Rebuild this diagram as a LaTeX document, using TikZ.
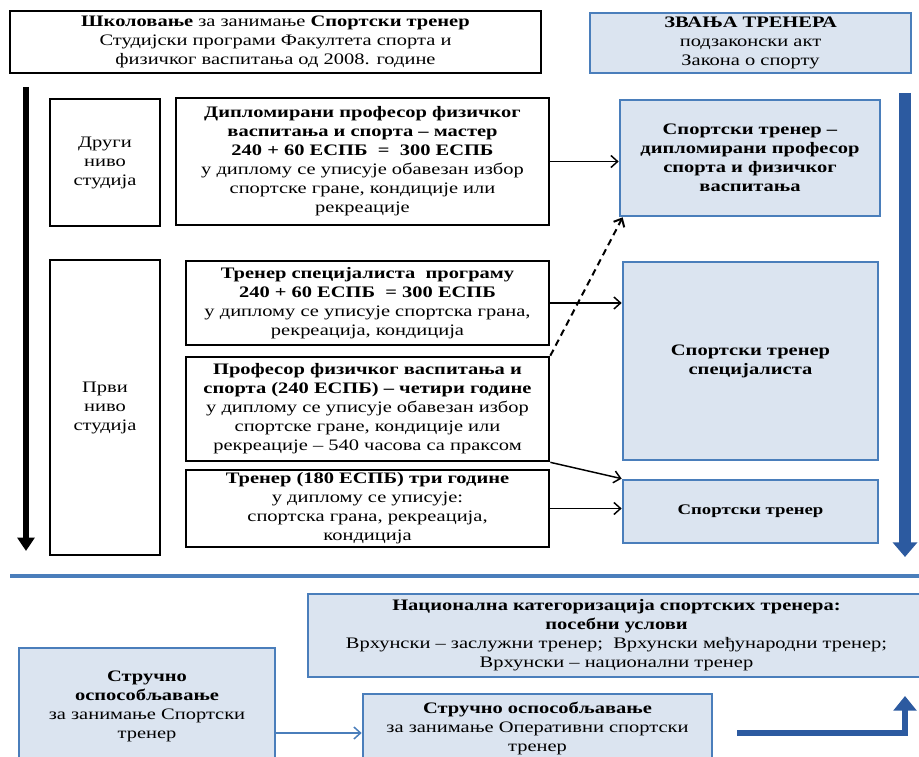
\documentclass[tikz,border=0pt]{standalone}
\usepackage{fontspec}
\setmainfont{Liberation Serif}[FakeStretch=1.28]
\usetikzlibrary{arrows.meta}

\definecolor{boxfill}{HTML}{DBE4F0}
\definecolor{boxline}{HTML}{4A7EBB}
\definecolor{bigblue}{HTML}{2C5AA0}

\tikzset{
  blackbox/.style={rectangle, draw=black, line width=2pt, align=center, inner sep=2pt,
    font=\fontsize{12}{14.25}\selectfont},
  bluebox/.style={rectangle, draw=boxline, fill=boxfill, line width=2pt, align=center, inner sep=2pt,
    font=\fontsize{12}{14.25}\selectfont},
  link/.style={-{Straight Barb[length=5pt,width=9pt]}, line width=1.1pt},
  dashlink/.style={link, dashed, dash pattern=on 5pt off 3.5pt, line width=1.5pt},
}

\begin{document}
\begin{tikzpicture}[x=0.75pt, y=-0.75pt]
  \useasboundingbox (0,0) rectangle (919,756);
  \clip (0,0) rectangle (919,756);
  % Nodes
  \node (school) [blackbox, minimum width=398.25pt, minimum height=46.5pt] at (275.5,42)
    {\textbf{Школовање} за занимање \textbf{Спортски тренер}\\Студијски програми Факултета спорта и\\физичког васпитања од 2008. године};
  \node (titles) [bluebox, minimum width=240.75pt, minimum height=45pt] at (750.5,43)
    {\textbf{ЗВАЊА ТРЕНЕРА}\\подзаконски акт\\Закона о спорту};
  \node (second) [blackbox, minimum width=82.5pt, minimum height=95.25pt] at (105,162.5)
    {Други\\ниво\\студија};
  \node (master) [blackbox, minimum width=279.75pt, minimum height=95.25pt] at (362.5,161.5)
    {\textbf{Дипломирани професор физичког}\\\textbf{васпитања и спорта -- мастер}\\\textbf{240 + 60 ЕСПБ \ = \ 300 ЕСПБ}\\у диплому се уписује обавезан избор\\спортске гране, кондиције или\\рекреације};
  \node (first) [blackbox, minimum width=82.5pt, minimum height=221.25pt] at (105,407.5)
    {Први\\ниво\\студија};
  \node (spec) [blackbox, minimum width=272.25pt, minimum height=63pt] at (367.5,303)
    {\textbf{Тренер специјалиста \ програму}\\\textbf{240 + 60 ЕСПБ \ = 300 ЕСПБ}\\у диплому се уписује спортска грана,\\рекреација, кондиција};
  \node (prof) [blackbox, minimum width=272.25pt, minimum height=78pt] at (367.5,409)
    {\textbf{Професор физичког васпитања и}\\\textbf{спорта (240 ЕСПБ) -- четири године}\\у диплому се уписује обавезан избор\\спортске гране, кондиције или\\рекреације -- 540 часова са праксом};
  \node (basic) [blackbox, minimum width=272.25pt, minimum height=57.75pt] at (367.5,508.5)
    {\textbf{Тренер (180 ЕСПБ) три године}\\у диплому се уписује:\\спортска грана, рекреација,\\кондиција};
  \node (coach-master) [bluebox, minimum width=195pt, minimum height=87pt] at (750,158)
    {\textbf{Спортски тренер --}\\\textbf{дипломирани професор}\\\textbf{спорта и физичког}\\\textbf{васпитања}};
  \node (coach-spec) [bluebox, minimum width=191.25pt, minimum height=148.5pt] at (750.5,361)
    {\textbf{Спортски тренер}\\\textbf{специјалиста}};
  \node (coach) [bluebox, minimum width=191.25pt, minimum height=47.25pt] at (750.5,511.5)
    {\textbf{\fontsize{11}{13}\selectfont Спортски тренер}};
  \node (national) [bluebox, minimum width=462.75pt, minimum height=62.25pt] at (616.5,635.5)
    {\textbf{Национална категоризација спортских тренера:}\\\textbf{посебни услови}\\Врхунски -- заслужни тренер; \ Врхунски међународни тренер;\\Врхунски -- национални тренер};
  \node (course) [bluebox, minimum width=192pt, minimum height=87.75pt] at (147,706.5)
    {\textbf{Стручно}\\\textbf{оспособљавање}\\за занимање Спортски\\тренер};
  \node (course-op) [bluebox, minimum width=261.75pt, minimum height=51pt] at (537.5,728)
    {\textbf{Стручно оспособљавање}\\за занимање Оперативни спортски\\тренер};
  \coordinate (edu-top) at (26,87);
  \coordinate (edu-bot) at (26,551);
  \coordinate (law-top) at (905,93);
  \coordinate (law-bot) at (905,557);
  \coordinate (rise-start) at (737,733);
  \coordinate (rise-end) at (905,696);
  \coordinate (rule-l) at (10,576);
  \coordinate (rule-r) at (919,576);
  % Arrow
  \draw[line width=5pt, -{Triangle[length=10pt,width=12.5pt]}] (edu-top) -- (edu-bot);
  \draw[bigblue, line width=8.5pt, -{Triangle[length=11pt,width=18pt]}] (law-top) -- (law-bot);
  \draw[boxline, line width=2.5pt] (rule-l) -- (rule-r);
  \draw[link] (master.east) -- (master.east -| coach-master.west);
  \draw[link] (spec.east) -- (spec.east -| coach-spec.west);
  \draw[link] (prof.south east) -- (coach.north west);
  \draw[link] (basic.east) -- (basic.east -| coach.west);
  \draw[dashlink] (prof.north east) -- ([xshift=3pt]coach-master.south west);
  \draw[link, boxline] ([yshift=-3.75pt]course.east |- course-op.west) -- ([yshift=-3.75pt]course-op.west);
  \draw[bigblue, line width=5pt, -{Triangle[length=11pt,width=17pt]}] (rise-start) -| (rise-end);
\end{tikzpicture}
\end{document}
